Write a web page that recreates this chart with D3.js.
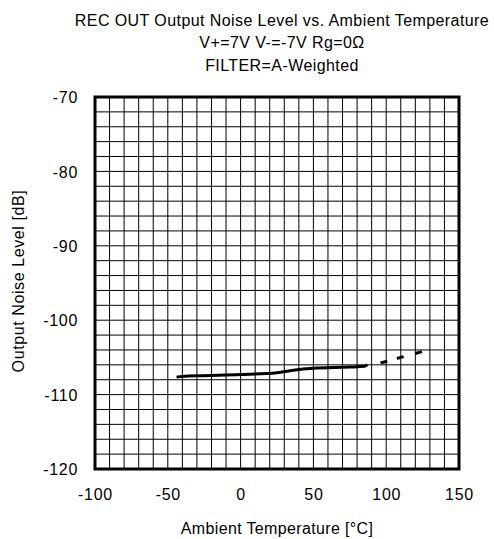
<!DOCTYPE html>
<html><head><meta charset="utf-8">
<script src="https://cdn.jsdelivr.net/npm/d3@7"></script>
<style>
html,body{margin:0;padding:0;background:#fff;}
text{font-family:"Liberation Sans",Arial,sans-serif;fill:#000;}
</style></head>
<body>
<svg id="chart" width="494" height="539"></svg>
<script>
const titleLines = ["REC OUT Output Noise Level vs. Ambient Temperature", "V+=7V V-=-7V Rg=0\u03A9", "FILTER=A-Weighted"];
const xLabel = "Ambient Temperature [\u00B0C]";
const yLabel = "Output Noise Level [dB]";
const xTicks = [-100, -50, 0, 50, 100, 150];
const yTicks = [-120, -110, -100, -90, -80, -70];
// measured (solid) region
const solidTemp = [-44, -40, -25, 0, 25, 35, 50, 75, 85, 87];
const solidNoise = [-107.65, -107.55, -107.45, -107.3, -107.05, -106.75, -106.45, -106.3, -106.2, -106.0];
// extrapolated (dashed) region
const dashTemp = [87, 98, 110, 125];
const dashNoise = [-106.1, -105.65, -105.0, -104.2];

const svg = d3.select("#chart");
const L = 95, R = 459, T = 97, B = 469;
const x = d3.scaleLinear().domain([-100, 150]).range([L, R]);
const y = d3.scaleLinear().domain([-120, -70]).range([B, T]);
const FONT = "Liberation Sans, Arial, sans-serif";

// grid
const g = svg.append("g");
g.selectAll("line.v").data(d3.range(-90, 150, 10)).enter().append("line")
  .attr("x1", d => x(d)).attr("x2", d => x(d)).attr("y1", T).attr("y2", B)
  .attr("stroke", "#000").attr("stroke-width", 1);
g.selectAll("line.h").data(d3.range(-118, -70, 2)).enter().append("line")
  .attr("y1", d => y(d)).attr("y2", d => y(d)).attr("x1", L).attr("x2", R)
  .attr("stroke", "#000").attr("stroke-width", 1);
// frame
svg.append("rect").attr("x", L).attr("y", T).attr("width", R - L).attr("height", B - T)
  .attr("fill", "none").attr("stroke", "#000").attr("stroke-width", 3);

// axes (labels only)
const fmt = d => String(d);
const xAxis = d3.axisBottom(x).tickValues(xTicks).tickFormat(fmt).tickSize(0).tickPadding(0);
const gx = svg.append("g").attr("transform", `translate(0,${B})`).call(xAxis);
gx.select(".domain").remove();
gx.selectAll("text").attr("y", 31).attr("dy", 0).style("font-size", "16px")
  .style("font-family", FONT).style("letter-spacing", "0.7px").attr("fill", "#000");
const yAxis = d3.axisLeft(y).tickValues(yTicks).tickFormat(fmt).tickSize(0).tickPadding(17);
const gy = svg.append("g").attr("transform", `translate(${L},0)`).call(yAxis);
gy.select(".domain").remove();
gy.selectAll("text").attr("dy", "0.36em").style("font-size", "16px")
  .style("font-family", FONT).style("letter-spacing", "0.7px").attr("fill", "#000");

// data lines
const line = d3.line().x(d => x(d[0])).y(d => y(d[1])).curve(d3.curveMonotoneX);
svg.append("path").datum(solidTemp.map((t, i) => [t, solidNoise[i]]))
  .attr("d", line).attr("fill", "none").attr("stroke", "#000").attr("stroke-width", 3);
svg.append("path").datum(dashTemp.map((t, i) => [t, dashNoise[i]]))
  .attr("d", line).attr("fill", "none").attr("stroke", "#000").attr("stroke-width", 3)
  .attr("stroke-dasharray", "0,13.5,7,10,7,12,7,40");

// titles
const tb = [26, 48, 71];
svg.selectAll("text.title").data(titleLines).enter().append("text")
  .attr("x", 282).attr("y", (d, i) => tb[i]).attr("text-anchor", "middle")
  .style("font-size", "16px").style("letter-spacing", "0.42px").text(d => d);
svg.append("text").attr("x", 277).attr("y", 534).attr("text-anchor", "middle")
  .style("font-size", "16px").style("letter-spacing", "0.35px").text(xLabel);
svg.append("text").attr("transform", "translate(24,281) rotate(-90)").attr("text-anchor", "middle")
  .style("font-size", "16px").style("letter-spacing", "0.6px").text(yLabel);
</script>
</body></html>
